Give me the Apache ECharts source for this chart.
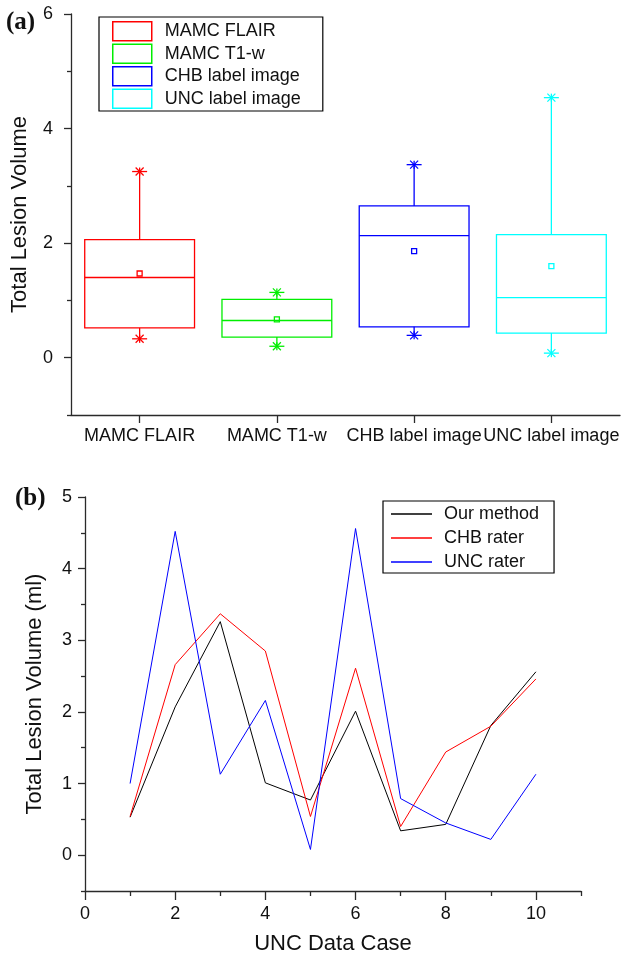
<!DOCTYPE html>
<html>
<head>
<meta charset="utf-8">
<title>Total Lesion Volume</title>
<script src="https://cdn.jsdelivr.net/npm/echarts@6/dist/echarts.min.js"></script>
<style>
  html, body { margin: 0; padding: 0; background: #fff; }
  #chart { width: 632px; height: 956px; }
</style>
</head>
<body>
<div id="chart"></div>
<script>
// (a) box plot statistics
const boxNames = ['MAMC FLAIR', 'MAMC T1-w', 'CHB label image', 'UNC label image'];
const boxMin = [0.33, 0.20, 0.39, 0.08];
const boxQ1 = [0.52, 0.36, 0.54, 0.43];
const boxMedian = [1.40, 0.65, 2.13, 1.05];
const boxQ3 = [2.06, 1.02, 2.65, 2.15];
const boxMax = [3.25, 1.14, 3.37, 4.54];
const boxMean = [1.47, 0.67, 1.86, 1.60];

// (b) per case volumes
const cases = [1, 2, 3, 4, 5, 6, 7, 8, 9, 10];
const ourMethod = [0.53, 2.07, 3.26, 1.01, 0.77, 2.01, 0.34, 0.43, 1.81, 2.56];
const chbRater = [0.54, 2.66, 3.37, 2.85, 0.54, 2.61, 0.40, 1.44, 1.80, 2.46];
const uncRater = [1.00, 4.52, 1.13, 2.16, 0.08, 4.56, 0.79, 0.45, 0.22, 1.13];

const lineNames = ['Our method', 'CHB rater', 'UNC rater'];
const lineValues = [ourMethod, chbRater, uncRater];

// axis ticks / labels
const topMajor = [0, 2, 4, 6];
const topMinor = [-1, 1, 3, 5];
const bottomXMajor = [0, 2, 4, 6, 8, 10];
const bottomXMinor = [1, 3, 5, 7, 9, 11];
const bottomYMajor = [0, 1, 2, 3, 4, 5];
const bottomYMinor = [-0.5, 0.5, 1.5, 2.5, 3.5, 4.5];

const boxColors = ['#ff0000', '#00ee00', '#0000ff', '#00ffff'];
const lineColors = ['#000000', '#ff0000', '#0000ff'];
const FONT = '"Liberation Sans", Arial, sans-serif';
const AXIS_COLOR = '#2a2a2a';

function renderBox(params, api) {
  const i = api.value(0);
  const c = v => api.coord([i, v]);
  const half = api.size([1, 0])[0] * 0.4;
  const pMin = c(api.value(1));
  const pQ1 = c(api.value(2));
  const pMed = c(api.value(3));
  const pQ3 = c(api.value(4));
  const pMax = c(api.value(5));
  const pMean = c(api.value(6));
  const x = pMed[0];
  const st = { stroke: boxColors[i], lineWidth: 1.3, fill: 'none' };
  const line = (x1, y1, x2, y2) => ({ type: 'line', shape: { x1, y1, x2, y2 }, style: st });
  // asterisk at the min / max points
  const star = (y) => [
    line(x - 7.5, y, x + 7.5, y),
    line(x - 4, y - 4, x + 4, y + 4),
    line(x - 4, y + 4, x + 4, y - 4),
    line(x, y - 4, x, y + 4)
  ];
  return {
    type: 'group',
    children: [
      { type: 'rect', shape: { x: x - half, y: pQ3[1], width: half * 2, height: pQ1[1] - pQ3[1] }, style: st },
      line(x - half, pMed[1], x + half, pMed[1]),
      line(x, pQ3[1], x, pMax[1]),
      line(x, pQ1[1], x, pMin[1]),
      { type: 'rect', shape: { x: x - 2.5, y: pMean[1] - 2.5, width: 5, height: 5 }, style: st }
    ].concat(star(pMax[1]), star(pMin[1]))
  };
}

const boxSeries = boxNames.map((name, i) => ({
  name: name,
  type: 'custom',
  xAxisIndex: 0,
  yAxisIndex: 0,
  renderItem: renderBox,
  itemStyle: { color: boxColors[i] },
  encode: { x: 0, y: [1, 2, 3, 4, 5, 6] },
  data: [[i, boxMin[i], boxQ1[i], boxMedian[i], boxQ3[i], boxMax[i], boxMean[i]]],
  silent: true
}));

const lineSeries = lineNames.map((name, k) => ({
  name: name,
  type: 'line',
  xAxisIndex: 1,
  yAxisIndex: 2,
  symbol: 'none',
  showSymbol: false,
  lineStyle: { color: lineColors[k], width: 1 },
  itemStyle: { color: lineColors[k] },
  data: cases.map((c, j) => [c, lineValues[k][j]]),
  silent: true
}));

const tickStyle = { color: AXIS_COLOR, width: 1.3 };
const labelStyle = { fontSize: 18, color: '#111', fontFamily: FONT };

const option = {
  animation: false,
  backgroundColor: '#fff',
  textStyle: { fontFamily: FONT },
  title: [
    { text: '(a)', left: 6, top: 10, padding: 0,
      textStyle: { fontFamily: '"Liberation Serif", "Times New Roman", serif', fontWeight: 'bold', fontSize: 25, color: '#111' } },
    { text: '(b)', left: 15, top: 486, padding: 0,
      textStyle: { fontFamily: '"Liberation Serif", "Times New Roman", serif', fontWeight: 'bold', fontSize: 25, color: '#111' } }
  ],
  legend: [
    {
      orient: 'vertical', left: 99, top: 17,
      padding: [4, 22, 2, 13],
      itemWidth: 39, itemHeight: 19, itemGap: 2,
      borderColor: '#000', borderWidth: 1.2,
      selectedMode: false, icon: 'rect',
      textStyle: { fontSize: 18, color: '#111', fontFamily: FONT, lineHeight: 20, padding: [0, 0, 0, 8] },
      data: boxNames.map((n, i) => ({
        name: n,
        itemStyle: { color: 'transparent', borderColor: boxColors[i], borderWidth: 1.5 }
      }))
    },
    {
      orient: 'vertical', left: 383, top: 501,
      padding: [3, 15, 1, 8],
      itemWidth: 41, itemHeight: 1.3, itemGap: 4,
      borderColor: '#000', borderWidth: 1.2,
      selectedMode: false, icon: 'rect',
      textStyle: { fontSize: 18, color: '#111', fontFamily: FONT, lineHeight: 20, padding: [0, 0, 0, 7] },
      data: lineNames.map((n, k) => ({
        name: n,
        itemStyle: { color: lineColors[k], borderWidth: 0 }
      }))
    }
  ],
  grid: [
    { left: 71, top: 14, width: 549, height: 401 },
    { left: 85, top: 497, width: 496, height: 394 }
  ],
  xAxis: [
    {
      gridIndex: 0, type: 'category', data: boxNames, boundaryGap: true, position: 'bottom',
      axisLine: { show: true, onZero: false, lineStyle: tickStyle },
      axisTick: { show: true, interval: 0, alignWithLabel: true, length: 8, lineStyle: tickStyle },
      axisLabel: Object.assign({ margin: 12, interval: 0 }, labelStyle),
      splitLine: { show: false }
    },
    {
      gridIndex: 1, type: 'value', min: 0, max: 11, interval: 1, position: 'bottom',
      name: 'UNC Data Case', nameLocation: 'middle', nameGap: 42,
      nameTextStyle: { fontSize: 22, color: '#111', fontFamily: FONT },
      axisLine: { onZero: false, lineStyle: tickStyle },
      axisTick: { customValues: bottomXMajor, length: 9, lineStyle: tickStyle },
      axisLabel: Object.assign({ customValues: bottomXMajor, margin: 14 }, labelStyle),
      splitLine: { show: false }
    },
    {
      gridIndex: 1, type: 'value', min: 0, max: 11, interval: 1, position: 'bottom',
      axisLine: { show: false, onZero: false },
      axisTick: { customValues: bottomXMinor, length: 5, lineStyle: tickStyle },
      axisLabel: { show: false },
      splitLine: { show: false }
    }
  ],
  yAxis: [
    {
      gridIndex: 0, type: 'value', min: -1, max: 6, interval: 1, position: 'left',
      name: 'Total Lesion Volume', nameLocation: 'middle', nameGap: 40,
      nameTextStyle: { fontSize: 22, color: '#111', fontFamily: FONT },
      axisLine: { show: true, onZero: false, lineStyle: tickStyle },
      axisTick: { show: true, customValues: topMajor, length: 7, lineStyle: tickStyle },
      axisLabel: Object.assign({ customValues: topMajor, margin: 18 }, labelStyle),
      splitLine: { show: false }
    },
    {
      gridIndex: 0, type: 'value', min: -1, max: 6, interval: 1, position: 'left',
      axisLine: { show: false, onZero: false },
      axisTick: { show: true, customValues: topMinor, length: 4, lineStyle: tickStyle },
      axisLabel: { show: false },
      splitLine: { show: false }
    },
    {
      gridIndex: 1, type: 'value', min: -0.5, max: 5, interval: 0.5, position: 'left',
      name: 'Total Lesion Volume (ml)', nameLocation: 'middle', nameGap: 39,
      nameTextStyle: { fontSize: 22, color: '#111', fontFamily: FONT },
      axisLine: { show: true, onZero: false, lineStyle: tickStyle },
      axisTick: { show: true, customValues: bottomYMajor, length: 7, lineStyle: tickStyle },
      axisLabel: Object.assign({ customValues: bottomYMajor, margin: 13 }, labelStyle),
      splitLine: { show: false }
    },
    {
      gridIndex: 1, type: 'value', min: -0.5, max: 5, interval: 0.5, position: 'left',
      axisLine: { show: false, onZero: false },
      axisTick: { show: true, customValues: bottomYMinor, length: 4, lineStyle: tickStyle },
      axisLabel: { show: false },
      splitLine: { show: false }
    }
  ],
  series: boxSeries.concat(lineSeries)
};

const myChart = echarts.init(document.getElementById('chart'), null, { renderer: 'canvas' });
myChart.setOption(option);
window.addEventListener('resize', () => {
  myChart.resize();
});
</script>
</body>
</html>
